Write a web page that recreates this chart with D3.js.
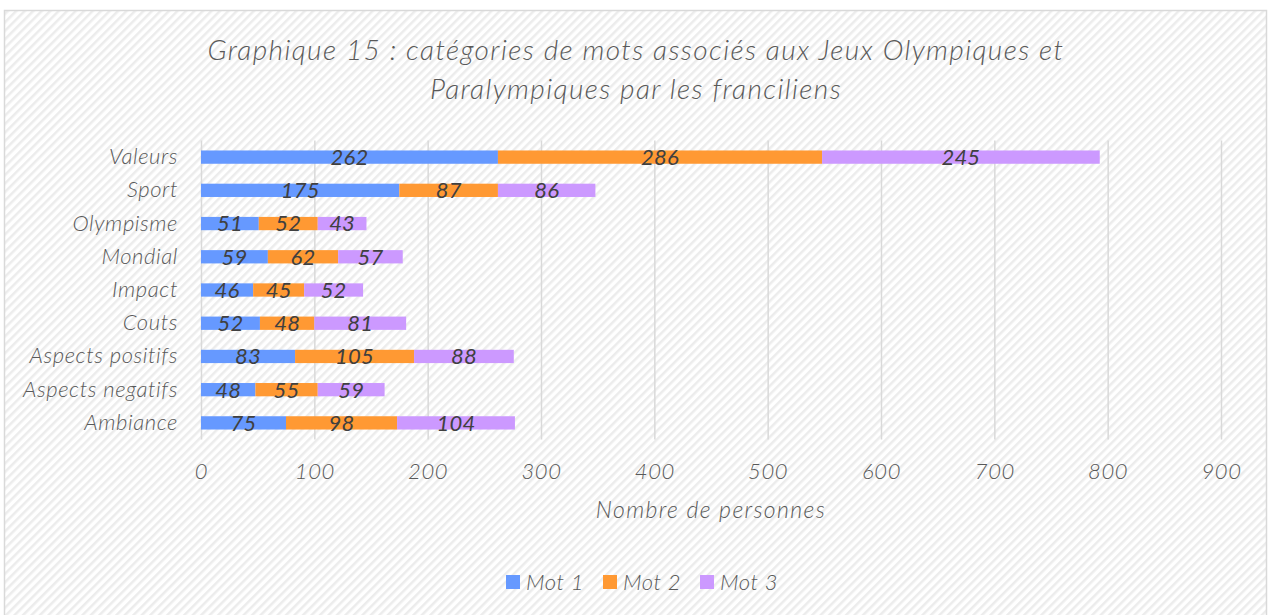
<!DOCTYPE html>
<html><head><meta charset="utf-8">
<script src="https://cdn.jsdelivr.net/npm/d3@7"></script>
<style>body{margin:0;background:#fff}svg{display:block}</style>
</head><body>
<script>
const categories = ["Valeurs","Sport","Olympisme","Mondial","Impact","Couts","Aspects positifs","Aspects negatifs","Ambiance"];
const seriesNames = ["Mot 1","Mot 2","Mot 3"];
const mot1 = [262,175,51,59,46,52,83,48,75];
const mot2 = [286,87,52,62,45,48,105,55,98];
const mot3 = [245,86,43,57,52,81,88,59,104];
const xTicks = [0,100,200,300,400,500,600,700,800,900];
const colors = ["#6699FF","#FF9933","#CC99FF"];
const titleLines = ["Graphique 15 : catégories de mots associés aux Jeux Olympiques et","Paralympiques par les franciliens"];
const xTitle = "Nombre de personnes";

const W=1269,H=615;
const font="Lato, sans-serif";
const svg=d3.select("body").append("svg").attr("width",W).attr("height",H);
const defs=svg.append("defs");
const pat=defs.append("pattern").attr("id","diag").attr("patternUnits","userSpaceOnUse")
  .attr("width",6).attr("height",6).attr("patternTransform","rotate(45)");
pat.append("rect").attr("width",6).attr("height",6).attr("fill","#ffffff");
pat.append("rect").attr("width",2.5).attr("height",6).attr("fill","#ececec");
svg.append("rect").attr("x",4.5).attr("y",10.5).attr("width",1262).attr("height",610)
  .attr("fill","url(#diag)").attr("stroke","#d9d9d9").attr("stroke-width",1.5);

const table=categories.map((c,i)=>({cat:c,"Mot 1":mot1[i],"Mot 2":mot2[i],"Mot 3":mot3[i]}));
const stack=d3.stack().keys(seriesNames)(table);

const x=d3.scaleLinear().domain([0,900]).range([201,1221]);
const y=d3.scaleBand().domain(categories).range([140.5,439.5]).paddingInner(0.6).paddingOuter(0.3);

const xAxis=d3.axisBottom(x).tickValues(xTicks).tickSize(-(439.5-140.5)).tickFormat(d3.format("d"));
const gx=svg.append("g").attr("transform","translate(0,439.5)").call(xAxis);
gx.select(".domain").remove();
gx.selectAll(".tick line").attr("stroke","#d9d9d9").attr("stroke-width",1.5);
gx.selectAll(".tick text").attr("y",32).attr("dy","0.32em").attr("fill","#595959")
  .style("font-family",font).style("font-style","italic").style("font-size","22px").style("font-weight","300").style("letter-spacing","0.6px");

const yAxis=d3.axisLeft(y).tickSize(0).tickPadding(23);
const gy=svg.append("g").attr("transform","translate(201,0)").call(yAxis);
gy.select(".domain").remove();
gy.selectAll(".tick text").attr("fill","#595959")
  .style("font-family",font).style("font-style","italic").style("font-size","22px").style("font-weight","300").style("letter-spacing","0.6px");

const layers=svg.append("g").selectAll("g").data(stack).join("g").attr("fill",(d,i)=>colors[i]);
layers.selectAll("rect").data(d=>d).join("rect")
  .attr("x",d=>x(d[0])).attr("width",d=>x(d[1])-x(d[0]))
  .attr("y",d=>y(d.data.cat)).attr("height",y.bandwidth());
const lab=svg.append("g");
stack.forEach(s=>{
  s.forEach(d=>{
    lab.append("text").attr("x",(x(d[0])+x(d[1]))/2).attr("y",y(d.data.cat)+y.bandwidth()/2)
      .attr("dy","0.36em").attr("text-anchor","middle").attr("fill","#404040")
      .style("font-family",font).style("font-style","italic").style("font-size","22px").style("letter-spacing","0.2px")
      .text(d[1]-d[0]);
  });
});

svg.append("g").selectAll("text").data(titleLines).join("text")
  .attr("x",636).attr("y",(d,i)=>60+i*39).attr("text-anchor","middle").attr("fill","#595959")
  .style("font-family",font).style("font-style","italic").style("font-size","28px").style("font-weight","300")
  .style("letter-spacing","1.4px")
  .text(d=>d);
svg.append("text").attr("x",711).attr("y",518).attr("text-anchor","middle").attr("fill","#595959")
  .style("font-family",font).style("font-style","italic").style("font-size","23px").style("font-weight","300").style("letter-spacing","1.4px").text(xTitle);

const leg=svg.append("g");
const legX=[506,603,700];
seriesNames.forEach((n,i)=>{
  leg.append("rect").attr("x",legX[i]).attr("y",575).attr("width",14).attr("height",14).attr("fill",colors[i]);
  leg.append("text").attr("x",legX[i]+20).attr("y",582).attr("dy","0.35em").attr("fill","#595959")
    .style("font-family",font).style("font-style","italic").style("font-size","22px").style("font-weight","300").style("letter-spacing","0.6px").text(n);
});
</script>
</body></html>
